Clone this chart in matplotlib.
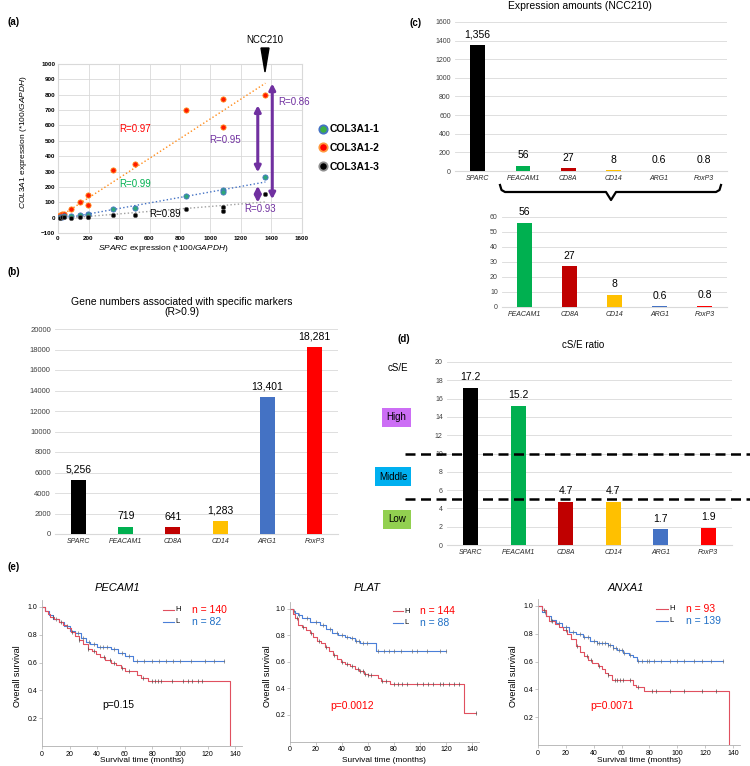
import numpy as np
import matplotlib
matplotlib.use('Agg')
import matplotlib.pyplot as plt
from matplotlib.lines import Line2D
from matplotlib.patches import Polygon, Rectangle

plt.rcParams['font.family'] = ['Liberation Sans', 'DejaVu Sans']
plt.rcParams['mathtext.fontset'] = 'custom'
plt.rcParams['mathtext.rm'] = 'Liberation Sans'
plt.rcParams['mathtext.it'] = 'Liberation Sans:italic'

# ---- panel (a): SPARC vs COL3A1 probes ----
sparc = [15, 25, 40, 83, 147, 197, 197, 362, 504, 837, 1081, 1081, 1359]
col3a1_1 = [2, 5, 8, 11, 17, 25, 20, 57, 65, 142, 181, 164, 262]
col3a1_2 = [15, 22, 25, 55, 103, 146, 79, 310, 347, 703, 773, 589, 795]
col3a1_3 = [0, 1, 2, 0, 4, 6, 3, 15, 15, 59, 70, 44, 157]
trend_x = [0, 1360]
trend_1 = [-12, 232]
trend_2 = [0, 875]
trend_3 = [-8, 102]
# vertical double arrows (x, y from, y to)
gap_arrows = [(1310, 295, 731), (1310, 98, 207), (1405, 120, 873)]
r_labels = [('R=0.97', 504, 578, '#ff0000'), ('R=0.95', 1096, 506, '#7030a0'),
            ('R=0.86', 1545, 753, '#7030a0'), ('R=0.99', 504, 218, '#00b050'),
            ('R=0.89', 701, 26, '#000000'), ('R=0.93', 1326, 55, '#7030a0')]

# ---- bar panels ----
genes = ['SPARC', 'PEACAM1', 'CD8A', 'CD14', 'ARG1', 'FoxP3']
gene_colors = ['#000000', '#00b050', '#c00000', '#ffc000', '#4472c4', '#ff0000']
gene_numbers = [5256, 719, 641, 1283, 13401, 18281]
gene_number_labels = ['5,256', '719', '641', '1,283', '13,401', '18,281']
expr_ncc210 = [1356, 56, 27, 8, 0.6, 0.8]
expr_labels = ['1,356', '56', '27', '8', '0.6', '0.8']
cse_ratio = [17.2, 15.2, 4.7, 4.7, 1.7, 1.9]
cse_labels = ['17.2', '15.2', '4.7', '4.7', '1.7', '1.9']

# ---- panel (e): Kaplan-Meier curves ----
km_titles = ['PECAM1', 'PLAT', 'ANXA1']
km_n = [(140, 82), (144, 88), (93, 139)]
km_p = [('p=0.15', 'black'), ('p=0.0012', '#ff0000'), ('p=0.0071', '#ff0000')]

k1h_t = [0, 2, 4, 6, 9, 12, 15, 18, 21, 24, 27, 30, 33, 36, 39, 42, 46, 50, 54, 57, 60, 69, 72, 77, 136]
k1h_s = [1.0, 0.97, 0.95, 0.93, 0.91, 0.89, 0.87, 0.85, 0.82, 0.79, 0.76, 0.73, 0.70, 0.68, 0.66, 0.64,
         0.62, 0.60, 0.58, 0.56, 0.54, 0.51, 0.49, 0.466, 0.0]
k1l_t = [0, 2, 5, 8, 12, 16, 20, 24, 28, 32, 35, 40, 50, 55, 60, 66, 132]
k1l_s = [1.0, 0.97, 0.94, 0.91, 0.89, 0.86, 0.83, 0.81, 0.78, 0.75, 0.73, 0.71, 0.695, 0.67, 0.65, 0.61, 0.61]
k1h_cens = [8, 14, 22, 27, 33, 38, 45, 49, 52, 58, 63, 73, 80, 82, 84, 86, 94, 102, 106, 109, 113, 116]
k1l_cens = [10, 18, 26, 30, 34, 38, 42, 44, 47, 52, 58, 63, 69, 74, 80, 85, 90, 95, 100, 108, 118, 125, 132]

k2h_t = [0, 2, 4, 6, 9, 12, 15, 18, 21, 24, 27, 30, 33, 36, 39, 42, 46, 50, 53, 57, 60, 65, 68, 70, 77, 134, 143]
k2h_s = [1.0, 0.96, 0.93, 0.88, 0.86, 0.84, 0.82, 0.79, 0.76, 0.74, 0.71, 0.68, 0.65, 0.62, 0.60, 0.585,
         0.57, 0.545, 0.53, 0.51, 0.50, 0.50, 0.48, 0.455, 0.435, 0.215, 0.215]
k2l_t = [0, 2, 4, 6, 9, 15, 23, 28, 32, 37, 42, 46, 50, 54, 66, 120]
k2l_s = [1.0, 0.98, 0.97, 0.955, 0.93, 0.90, 0.88, 0.85, 0.82, 0.80, 0.79, 0.78, 0.76, 0.74, 0.68, 0.68]
k2h_cens = [5, 10, 16, 22, 28, 34, 40, 44, 48, 52, 54, 56, 58, 60, 62, 71, 74, 80, 83, 86, 90, 98, 102,
            106, 110, 115, 118, 122, 126, 130, 143]
k2l_cens = [3, 7, 13, 20, 25, 31, 36, 40, 44, 48, 51, 53, 56, 59, 68, 72, 76, 80, 85, 94, 98, 105, 115, 120]

k3h_t = [0, 3, 6, 8, 12, 15, 18, 21, 24, 27, 30, 33, 36, 39, 43, 46, 48, 50, 53, 68, 70, 76, 137]
k3h_s = [1.0, 0.97, 0.93, 0.89, 0.87, 0.85, 0.83, 0.80, 0.76, 0.71, 0.67, 0.64, 0.61, 0.59, 0.57, 0.55,
         0.52, 0.50, 0.47, 0.43, 0.415, 0.39, 0.0]
k3l_t = [0, 3, 6, 9, 13, 17, 22, 27, 32, 37, 42, 50, 54, 57, 61, 65, 68, 71, 133]
k3l_s = [1.0, 0.96, 0.93, 0.90, 0.875, 0.85, 0.815, 0.80, 0.78, 0.75, 0.73, 0.72, 0.70, 0.68, 0.66, 0.65,
         0.63, 0.605, 0.605]
k3h_cens = [4, 10, 20, 28, 35, 38, 44, 50, 55, 57, 59, 61, 66, 72, 82, 85, 95, 105, 118, 128]
k3l_cens = [5, 9, 15, 20, 25, 30, 33, 36, 40, 42, 44, 46, 48, 50, 52, 54, 56, 58, 60, 62, 66, 72, 75, 78,
            80, 83, 88, 95, 100, 105, 112, 118, 124, 133]

W, H = 750, 766
fig = plt.figure(figsize=(W / 100, H / 100), dpi=100)


def fx(px):
    return px / W


def fy(py):
    return 1 - py / H


def px_axes(l, t, r, b):
    return fig.add_axes([l / W, 1 - b / H, (r - l) / W, (b - t) / H])


def line_fig(xs, ys, **kw):
    fig.add_artist(Line2D([fx(v) for v in xs], [fy(v) for v in ys], transform=fig.transFigure, **kw))


# ================= (a) =================
fig.text(fx(8), fy(22), '(a)', fontsize=7, fontweight='bold', va='center')
ax = px_axes(58, 64, 302, 233)
ax.set_xlim(0, 1600)
ax.set_ylim(-100, 1000)
ax.set_xticks(range(0, 1601, 200))
ax.set_yticks(range(-100, 1001, 100))
ax.grid(True, color='#d9d9d9', lw=0.6)
ax.set_axisbelow(True)
for s in ax.spines.values():
    s.set_color('#d9d9d9')
ax.tick_params(length=0, labelsize=4.5, pad=2)
for lab in ax.get_xticklabels() + ax.get_yticklabels():
    lab.set_fontweight('bold')

ax.plot(trend_x, trend_2, ':', color='#ff8c1a', lw=1)
ax.plot(trend_x, trend_1, ':', color='#4472c4', lw=1)
ax.plot(trend_x, trend_3, ':', color='#a0a0a0', lw=1)
ax.scatter(sparc, col3a1_2, s=14, c='#ff1a00', edgecolors='#ff8c1a', linewidths=0.6, zorder=4)
ax.scatter(sparc, col3a1_1, s=14, c='#2ea67a', edgecolors='#4472c4', linewidths=0.6, zorder=4)
ax.scatter(sparc, col3a1_3, s=10, c='#000000', edgecolors='#606060', linewidths=0.5, zorder=4)
for x, y0, y1 in gap_arrows:
    ax.annotate('', xy=(x, y1), xytext=(x, y0),
                arrowprops=dict(arrowstyle='<|-|>,head_length=0.35,head_width=0.18',
                                color='#7030a0', lw=2.2, shrinkA=0, shrinkB=0))
for txt, x, y, c in r_labels:
    ax.text(x, y, txt, color=c, fontsize=7, ha='center', va='center', clip_on=False)

fig.text(fx(163), fy(248), r'$\it{SPARC}$ expression (*100/$\it{GAPDH}$)', fontsize=6,
         ha='center', va='center')
fig.text(fx(24), fy(142), r'$\it{COL3A1}$ expression (*100/$\it{GAPDH}$)', fontsize=6,
         ha='center', va='center', rotation=90)

fig.text(fx(265), fy(40), 'NCC210', fontsize=7, ha='center', va='center')
fig.add_artist(Polygon([[fx(261), fy(48)], [fx(269), fy(48)], [fx(265), fy(72)]], closed=True,
                       color='black', transform=fig.transFigure))

handles = [Line2D([], [], marker='o', ls='', ms=6, mfc='#3cb043', mec='#4472c4', mew=1.3),
           Line2D([], [], marker='o', ls='', ms=6, mfc='#ff0000', mec='#ff9a40', mew=1.3),
           Line2D([], [], marker='o', ls='', ms=6, mfc='#000000', mec='#909090', mew=1.3)]
fig.legend(handles, ['COL3A1-1', 'COL3A1-2', 'COL3A1-3'], loc='center left',
           bbox_to_anchor=(fx(307), fy(148)), frameon=False, prop=dict(weight='bold', size=7.5),
           handletextpad=0.1, labelspacing=0.85, handlelength=1.2)


# ================= bar charts =================
def bar_panel(ax, cats, vals, colors, labels, ymax, step, tick_size=5.5):
    x = np.arange(len(cats))
    ax.bar(x, vals, width=0.32, color=colors, zorder=3)
    ax.set_xlim(-0.5, len(cats) - 0.5)
    ax.set_ylim(0, ymax)
    ax.set_yticks(np.arange(0, ymax + step / 2, step))
    ax.yaxis.grid(True, color='#d9d9d9', lw=0.6)
    ax.set_axisbelow(True)
    for s in ['top', 'right', 'left']:
        ax.spines[s].set_visible(False)
    ax.spines['bottom'].set_color('#d9d9d9')
    ax.tick_params(length=0, labelsize=tick_size, colors='#404040', pad=3)
    ax.set_xticks(x)
    ax.set_xticklabels(cats, style='italic', fontsize=5, color='#262626')
    for xi, v, lab in zip(x, vals, labels):
        ax.annotate(lab, (xi, v), xytext=(0, 4), textcoords='offset points', ha='center',
                    va='bottom', fontsize=7.5, annotation_clip=False)


# (b)
fig.text(fx(8), fy(272), '(b)', fontsize=7, fontweight='bold', va='center')
fig.text(fx(182), fy(307), 'Gene numbers associated with specific markers\n(R>0.9)', fontsize=7.5,
         ha='center', va='center', linespacing=1.1)
axb = px_axes(55, 329, 338, 534)
bar_panel(axb, genes, gene_numbers, gene_colors, gene_number_labels, 20000, 2000)

# (c)
fig.text(fx(409), fy(23), '(c)', fontsize=7, fontweight='bold', va='center')
fig.text(fx(580), fy(1), 'Expression amounts (NCC210)', fontsize=7.5, ha='center', va='top')
axc = px_axes(455, 22, 727, 171)
bar_panel(axc, genes, expr_ncc210, gene_colors, expr_labels, 1600, 200, tick_size=5)
axc2 = px_axes(502, 217, 727, 307)
bar_panel(axc2, genes[1:], expr_ncc210[1:], gene_colors[1:], expr_labels[1:], 60, 10, tick_size=5)
# brace linking the two charts
line_fig([500, 501.5, 505, 606, 611, 616, 716, 719.5, 721], [185, 190, 192, 192, 200, 192, 192, 190, 185],
         color='black', lw=1.6, solid_joinstyle='round')

# (d)
fig.text(fx(397), fy(339), '(d)', fontsize=7, fontweight='bold', va='center')
fig.text(fx(583), fy(345), 'cS/E ratio', fontsize=7, ha='center', va='center')
fig.text(fx(398), fy(368), 'cS/E', fontsize=7, ha='center', va='center')
axd = px_axes(447, 362, 732, 545)
bar_panel(axd, genes, cse_ratio, gene_colors, cse_labels, 20, 2, tick_size=5)
for yv in [10, 5]:
    axd.plot([-0.147, 1.065], [yv, yv], transform=axd.get_yaxis_transform(), color='black',
             lw=1.8, ls=(0, (4, 2.2)), clip_on=False, zorder=5)
for txt, (l, t, r, b), c in [('High', (382, 408, 411, 427), '#cc6ef5'),
                             ('Middle', (375, 467, 411, 486), '#00b0f0'),
                             ('Low', (383, 510, 411, 529), '#92d050')]:
    fig.add_artist(Rectangle((fx(l), fy(b)), (r - l) / W, (b - t) / H, facecolor=c, edgecolor='none',
                             transform=fig.transFigure))
    fig.text(fx((l + r) / 2), fy((t + b) / 2), txt, fontsize=7, ha='center', va='center')

# ================= (e) =================
fig.text(fx(8), fy(567), '(e)', fontsize=7, fontweight='bold', va='center')
km_axes_px = [(42, 600, 242, 746), (290, 602, 478.5, 741.5), (538, 599, 740, 745)]
km_title_x = [117, 367, 626]
km_ylabel_x = [17, 268, 513]
km_leg_x = [88, 79, 85]
km_p_pos = [(55, 0.295), (48, 0.27), (53, 0.28)]
km_data = [(k1h_t, k1h_s, k1h_cens, k1l_t, k1l_s, k1l_cens),
           (k2h_t, k2h_s, k2h_cens, k2l_t, k2l_s, k2l_cens),
           (k3h_t, k3h_s, k3h_cens, k3l_t, k3l_s, k3l_cens)]
red_km, blue_km = '#e0505f', '#4a7fd8'


def surv_at(times, surv, t):
    i = np.searchsorted(times, t, side='right') - 1
    return surv[max(i, 0)]


for i in range(3):
    l, t, r, b = km_axes_px[i]
    ax = px_axes(l, t, r, b)
    ht, hs, hc, lt, ls_, lc = km_data[i]
    ax.step(lt, ls_, where='post', color=blue_km, lw=0.8)
    ax.step(ht, hs, where='post', color=red_km, lw=0.8)
    ax.plot(lc, [surv_at(lt, ls_, v) for v in lc], '|', color='#707070', ms=2.5, mew=0.5)
    ax.plot(hc, [surv_at(ht, hs, v) for v in hc], '|', color='#505050', ms=2.5, mew=0.5)
    ax.set_xlim(0, 145)
    ax.set_ylim(0, 1.05)
    ax.set_xticks(range(0, 141, 20))
    ax.set_yticks([0.2, 0.4, 0.6, 0.8, 1.0])
    ax.set_yticklabels(['0.2', '0.4', '0.6', '0.8', '1.0'])
    for s in ['top', 'right']:
        ax.spines[s].set_visible(False)
    for s in ['left', 'bottom']:
        ax.spines[s].set_color('#b0b0b0')
        ax.spines[s].set_linewidth(0.6)
    ax.tick_params(length=2, width=0.5, color='#b0b0b0', labelsize=5, pad=1.5)
    fig.text(fx(km_title_x[i]), fy(588), km_titles[i], fontsize=8, style='italic', ha='center',
             va='center')
    fig.text(fx(km_ylabel_x[i]), fy(676), 'Overall survival', fontsize=6.5, rotation=90,
             ha='center', va='center')
    fig.text(fx((l + r) / 2), fy(760), 'Survival time (months)', fontsize=6, ha='center', va='center')
    lx = km_leg_x[i]
    n_hi, n_lo = km_n[i]
    for yy, col, lab, n in [(0.98, red_km, 'H', n_hi), (0.895, blue_km, 'L', n_lo)]:
        ax.plot([lx, lx + 8], [yy, yy], color=col, lw=0.8)
        ax.text(lx + 9, yy, lab, fontsize=5.5, va='center', ha='left')
        ax.text(lx + 21, yy, 'n = %d' % n, fontsize=7.5, va='center', ha='left',
                color='#ff0000' if lab == 'H' else '#1f6fc5')
    ptxt, pcol = km_p[i]
    ax.text(km_p_pos[i][0], km_p_pos[i][1], ptxt, fontsize=7.5, color=pcol, ha='center', va='center')

fig.savefig('out.png', dpi=100)
